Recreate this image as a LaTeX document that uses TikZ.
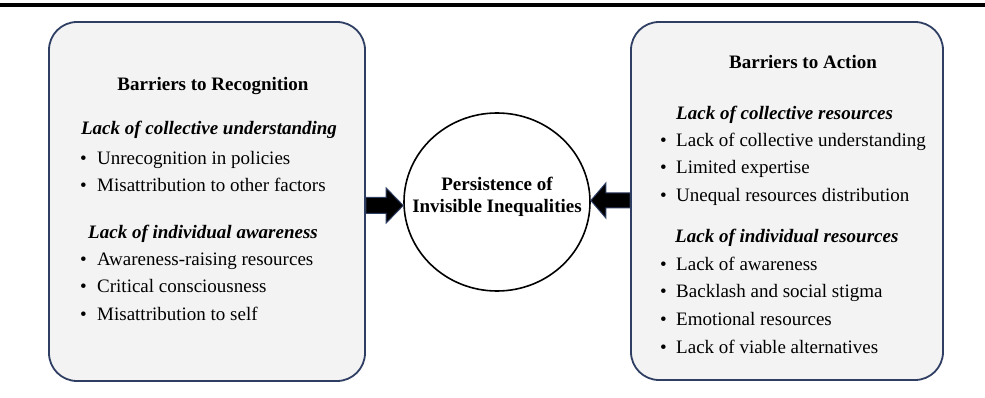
\documentclass[tikz,border=0pt]{standalone}
\usepackage{fontspec}
\setmainfont{Liberation Serif}
\usetikzlibrary{calc,shapes.geometric}
\definecolor{framenavy}{HTML}{2F3E63}
\definecolor{panelgrey}{HTML}{F3F3F3}
\newcommand\dotmark[1]{\makebox[#1][l]{\textbullet}}
\begin{document}
\begin{tikzpicture}[x=1pt,y=1pt,
  panel/.style={draw=framenavy,line width=1.8pt,fill=panelgrey,rounded corners=28pt,inner sep=0pt},
  txt/.style={inner sep=0pt,font=\fontsize{19}{22}\selectfont},
  heading/.style={inner sep=0pt,font=\fontsize{19}{22}\selectfont\bfseries,anchor=base},
  subheading/.style={inner sep=0pt,font=\fontsize{19}{22}\selectfont\bfseries\itshape,anchor=base},
  listline/.style={txt,anchor=base west},
  blockarrow/.style={fill=black,draw=framenavy,line width=1pt,line join=miter}]

\useasboundingbox (0,0) rectangle (985,-398);

% rule across the top
\coordinate (ruleL) at (0,-5);
\coordinate (ruleR) at (985,-5);
\draw[line width=3.4pt] (ruleL) -- (ruleR);

% the two panels
\node[panel,minimum width=316pt,minimum height=359pt] (recog) at (207,-201.5) {};
\node[panel,minimum width=312pt,minimum height=358pt] (action) at (787,-201) {};

% central ellipse
\node[ellipse,draw=black,line width=1.6pt,fill=white,minimum width=186pt,minimum height=178pt,inner sep=0pt] (core) at (497,-202) {};
\node[heading,anchor=center,align=center] (coretext) at (497,-196.5) {Persistence of\\Invisible Inequalities};

% block arrow from the left panel
\coordinate (lbase) at ([yshift=-4pt]recog.east);
\coordinate (ltip) at (core.west |- lbase);
\draw[blockarrow] ($(lbase)+(0,8)$) -- ($(ltip)+(-17,8)$) -- ($(ltip)+(-17,17.5)$) -- (ltip)
  -- ($(ltip)+(-17,-17.5)$) -- ($(ltip)+(-17,-8)$) -- ($(lbase)+(0,-8)$) -- cycle;

% block arrow from the right panel
\coordinate (rbase) at ([yshift=0.5pt]action.west);
\coordinate (rtip) at (core.east |- rbase);
\draw[blockarrow] ($(rbase)+(0,7.5)$) -- ($(rtip)+(15,7.5)$) -- ($(rtip)+(15,17.5)$) -- (rtip)
  -- ($(rtip)+(15,-17.5)$) -- ($(rtip)+(15,-7.5)$) -- ($(rbase)+(0,-7.5)$) -- cycle;

% left panel text
\node[heading] (lhead) at (213,-91) {Barriers to Recognition};
\node[subheading] (lsubA) at (209,-135) {Lack of collective understanding};
\node[listline] (lA1) at (80,-165) {\dotmark{17pt}Unrecognition in policies};
\node[listline] (lA2) at (80,-192) {\dotmark{17pt}Misattribution to other factors};
\node[subheading] (lsubB) at (203,-238) {Lack of individual awareness};
\node[listline] (lB1) at (80,-265) {\dotmark{17pt}Awareness-raising resources};
\node[listline] (lB2) at (80,-292) {\dotmark{17pt}Critical consciousness};
\node[listline] (lB3) at (80,-320) {\dotmark{17pt}Misattribution to self};

% right panel text
\node[heading] (rhead) at (803,-69) {Barriers to Action};
\node[subheading,anchor=base west] (rsubA) at (676,-119.5) {Lack of collective resources};
\node[listline] (rA1) at (660,-147) {\dotmark{16pt}Lack of collective understanding};
\node[listline] (rA2) at (660,-174) {\dotmark{16pt}Limited expertise};
\node[listline] (rA3) at (660,-202) {\dotmark{16pt}Unequal resources distribution};
\node[subheading,anchor=base west] (rsubB) at (675,-243) {Lack of individual resources};
\node[listline] (rB1) at (660,-270) {\dotmark{16pt}Lack of awareness};
\node[listline] (rB2) at (660,-297) {\dotmark{16pt}Backlash and social stigma};
\node[listline] (rB3) at (660,-325) {\dotmark{16pt}Emotional resources};
\node[listline] (rB4) at (660,-353) {\dotmark{16pt}Lack of viable alternatives};
\end{tikzpicture}
\end{document}
